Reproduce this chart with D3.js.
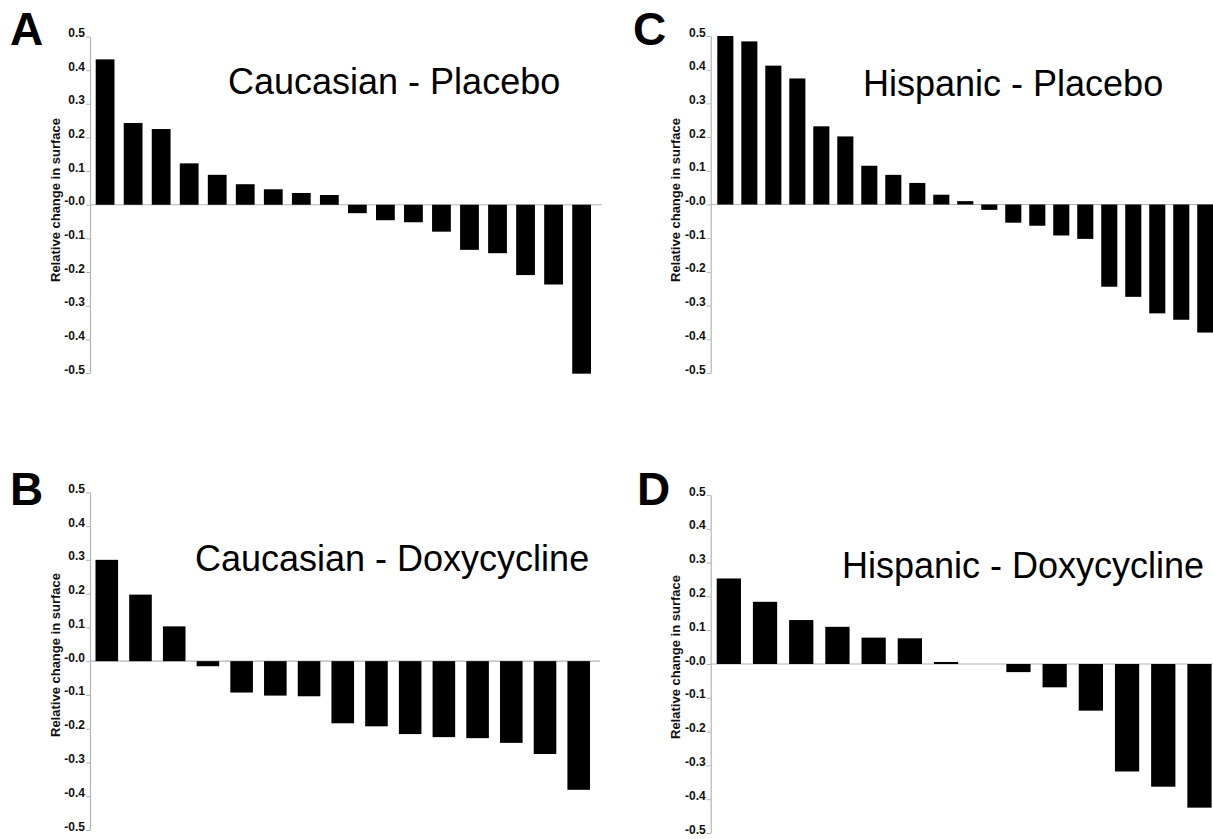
<!DOCTYPE html>
<html>
<head>
<meta charset="utf-8">
<script src="https://cdn.jsdelivr.net/npm/d3@7"></script>
<style>
  body { margin: 0; background: #fff; }
  svg { display: block; }
</style>
</head>
<body>
<div id="chart"></div>
<script>
// values (sorted, as in the figure)
var caucasianPlacebo = [0.432, 0.243, 0.225, 0.123, 0.089, 0.061, 0.046, 0.035, 0.029,
  -0.025, -0.046, -0.052, -0.080, -0.134, -0.144, -0.209, -0.237, -0.502];
var caucasianDoxy = [0.300, 0.197, 0.103, -0.015, -0.093, -0.102, -0.104, -0.184,
  -0.193, -0.216, -0.225, -0.228, -0.242, -0.275, -0.381];
var hispanicPlacebo = [0.500, 0.484, 0.412, 0.374, 0.232, 0.202, 0.115, 0.088, 0.064,
  0.029, 0.010, -0.016, -0.054, -0.063, -0.092, -0.102, -0.244, -0.274, -0.323, -0.342, -0.380];
var hispanicDoxy = [0.253, 0.184, 0.130, 0.110, 0.078, 0.076, 0.006, 0.0,
  -0.024, -0.069, -0.138, -0.318, -0.363, -0.425];

var tickValues = [0.5, 0.4, 0.3, 0.2, 0.1, 0, -0.1, -0.2, -0.3, -0.4, -0.5];
var tickLabels = ["0.5", "0.4", "0.3", "0.2", "0.1", "-0.0", "-0.1", "-0.2", "-0.3", "-0.4", "-0.5"];

var yLabel = "Relative change in surface";

// panel layout
var panels = [
  {letter: "A", title: "Caucasian - Placebo", data: caucasianPlacebo,
   axisX: 90, top: 36.5, bottom: 373, barStart: 95.7, barEnd: 591, lineEnd: 602,
   titleX: 228, titleY: 94, letterX: 10, letterY: 45, labelX: 55, labelY: 200},
  {letter: "B", title: "Caucasian - Doxycycline", data: caucasianDoxy,
   axisX: 90, top: 492.3, bottom: 830, barStart: 95.5, barEnd: 590, lineEnd: 600,
   titleX: 195, titleY: 571, letterX: 10, letterY: 505, labelX: 55, labelY: 655},
  {letter: "C", title: "Hispanic - Placebo", data: hispanicPlacebo,
   axisX: 710.7, top: 36, bottom: 373, barStart: 717.3, barEnd: 1213.3, lineEnd: 1213,
   titleX: 863, titleY: 96, letterX: 633, letterY: 45, labelX: 675, labelY: 200},
  {letter: "D", title: "Hispanic - Doxycycline", data: hispanicDoxy,
   axisX: 710.7, top: 495, bottom: 833, barStart: 716.7, barEnd: 1211.6, lineEnd: 1213,
   titleX: 842, titleY: 578, letterX: 637, letterY: 505, labelX: 675, labelY: 657}
];

var width = 1213, height = 839;
var font = "'Liberation Sans', Arial, Helvetica, sans-serif";
var gray = "#b4b4b4";

var svg = d3.select("#chart")
  .append("svg")
    .attr("width", width)
    .attr("height", height)
    .style("font-family", font);

panels.forEach(function(p) {
  var g = svg.append("g");

  var y = d3.scaleLinear()
    .domain([0.5, -0.5])
    .range([p.top, p.bottom]);

  var x = d3.scaleBand()
    .domain(d3.range(p.data.length))
    .range([p.barStart, p.barEnd])
    .paddingInner(0.33)
    .paddingOuter(0);

  // zero line
  g.append("line")
    .attr("x1", p.axisX)
    .attr("x2", p.lineEnd)
    .attr("y1", y(0))
    .attr("y2", y(0))
    .attr("stroke", gray)
    .attr("stroke-width", 1.2);

  // bars
  g.selectAll("rect")
    .data(p.data)
    .enter()
    .append("rect")
    .attr("x", function(d, i) { return x(i); })
    .attr("y", function(d) { return y(Math.max(0, d)); })
    .attr("width", x.bandwidth())
    .attr("height", function(d) { return Math.abs(y(d) - y(0)); })
    .attr("fill", "#000");

  // y axis
  var axis = g.append("g")
    .attr("transform", "translate(" + p.axisX + ",0)")
    .call(d3.axisLeft(y)
      .tickValues(tickValues)
      .tickFormat(function(d, i) { return tickLabels[i]; })
      .tickSize(4)
      .tickSizeOuter(0)
      .tickPadding(1));
  axis.select(".domain").attr("stroke", gray).attr("stroke-width", 1.2);
  axis.selectAll(".tick line").attr("stroke", gray);
  axis.selectAll(".tick text")
    .attr("dy", "0")
    .attr("fill", "#111")
    .style("font-family", font)
    .style("font-weight", "bold")
    .style("font-size", "12px");

  // y axis label
  g.append("text")
    .attr("transform", "translate(" + p.labelX + "," + p.labelY + ") rotate(-90)")
    .attr("text-anchor", "middle")
    .attr("dy", "0.35em")
    .attr("font-size", "13px")
    .attr("font-weight", "bold")
    .attr("fill", "#111")
    .text(yLabel);

  // title
  g.append("text")
    .attr("x", p.titleX)
    .attr("y", p.titleY)
    .attr("font-size", "36px")
    .attr("fill", "#000")
    .text(p.title);

  // panel letter
  g.append("text")
    .attr("x", p.letterX)
    .attr("y", p.letterY)
    .attr("font-size", "46px")
    .attr("font-weight", "bold")
    .attr("fill", "#000")
    .text(p.letter);
});
</script>
</body>
</html>
